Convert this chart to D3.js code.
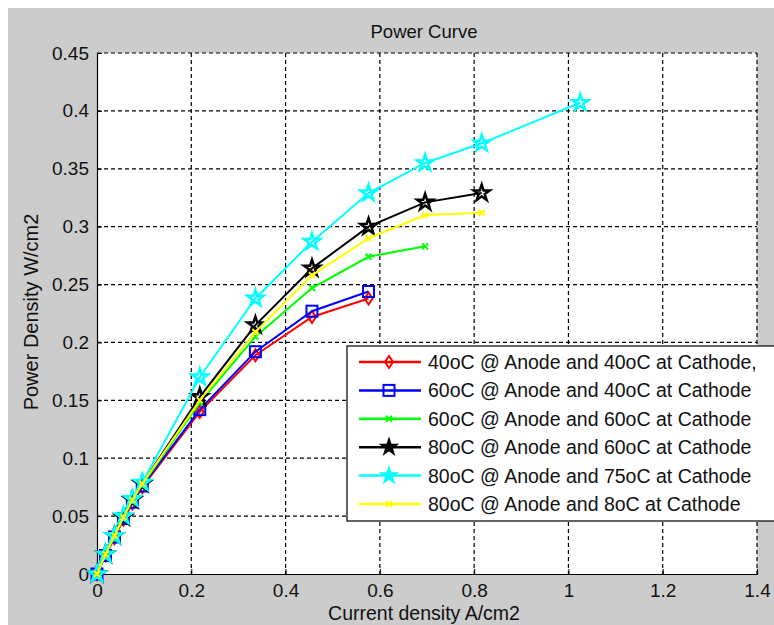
<!DOCTYPE html>
<html lang="en">
<head>
    <meta charset="UTF-8">
    <title>Power Curve</title>
    <script src="https://cdn.jsdelivr.net/npm/d3@7"></script>
    <style>
        body { margin: 0; background: #fff; }
        text { font-family: "Liberation Sans", Arial, sans-serif; fill: #111; }
    </style>
</head>
<body>
<script>

    // current density values (A/cm2)
    var current = [0, 0.018, 0.037, 0.056, 0.075, 0.096, 0.218, 0.336, 0.456, 0.576, 0.696, 0.816, 1.025];

    // power density per run (W/cm2)
    var red40_40    = [0, 0.016, 0.031, 0.047, 0.061, 0.075, 0.140, 0.189, 0.222, 0.238];
    var blue60_40   = [0, 0.016, 0.032, 0.048, 0.062, 0.076, 0.142, 0.192, 0.227, 0.244];
    var green60_60  = [0, 0.016, 0.032, 0.048, 0.063, 0.077, 0.148, 0.205, 0.247, 0.274, 0.283];
    var black80_60  = [0, 0.017, 0.033, 0.049, 0.064, 0.078, 0.153, 0.215, 0.264, 0.300, 0.321, 0.329];
    var cyan80_75   = [0, 0.017, 0.033, 0.050, 0.065, 0.079, 0.170, 0.238, 0.287, 0.329, 0.355, 0.372, 0.407];
    var yellow80_8  = [0, 0.017, 0.033, 0.049, 0.064, 0.078, 0.150, 0.209, 0.258, 0.290, 0.310, 0.312];

    var labels = [
        "40oC @ Anode and 40oC at Cathode,",
        "60oC @ Anode and 40oC at Cathode",
        "60oC @ Anode and 60oC at Cathode",
        "80oC @ Anode and 60oC at Cathode",
        "80oC @ Anode and 75oC at Cathode",
        "80oC @ Anode and 8oC at Cathode"
    ];

    var xTicks = [0, 0.2, 0.4, 0.6, 0.8, 1, 1.2, 1.4];
    var yTicks = [0, 0.05, 0.1, 0.15, 0.2, 0.25, 0.3, 0.35, 0.4, 0.45];

    var series = [
        {name: labels[0], values: red40_40,   color: "#ff0000", marker: "diamond"},
        {name: labels[1], values: blue60_40,  color: "#0000ff", marker: "square"},
        {name: labels[2], values: green60_60, color: "#00ff00", marker: "x"},
        {name: labels[3], values: black80_60, color: "#000000", marker: "star"},
        {name: labels[4], values: cyan80_75,  color: "#00ffff", marker: "star"},
        {name: labels[5], values: yellow80_8, color: "#ffff00", marker: "x"}
    ];

    var W = 774, H = 625;
    var pLeft = 97, pRight = 757, pTop = 53, pBottom = 574;

    var svg = d3.select("body").append("svg")
            .attr("width", W)
            .attr("height", H);

    // grey figure background
    svg.append("rect")
            .attr("x", 8).attr("y", 8)
            .attr("width", W - 8).attr("height", H - 8)
            .attr("fill", "#cccccc");

    var x = d3.scaleLinear().domain([0, 1.4]).range([pLeft, pRight]);
    var y = d3.scaleLinear().domain([0, 0.45]).range([pBottom, pTop]);
    var fmt = d3.format("~g");

    svg.append("rect")
            .attr("x", pLeft).attr("y", pTop)
            .attr("width", pRight - pLeft).attr("height", pBottom - pTop)
            .attr("fill", "#fff");

    // grid
    svg.append("g").selectAll("line")
            .data(xTicks.slice(1))
            .enter().append("line")
            .attr("x1", function(d) { return x(d); })
            .attr("x2", function(d) { return x(d); })
            .attr("y1", pTop).attr("y2", pBottom)
            .attr("stroke", "#000").attr("stroke-width", 1.2)
            .attr("stroke-dasharray", "4,3");

    svg.append("g").selectAll("line")
            .data(yTicks.slice(1))
            .enter().append("line")
            .attr("y1", function(d) { return y(d); })
            .attr("y2", function(d) { return y(d); })
            .attr("x1", pLeft).attr("x2", pRight)
            .attr("stroke", "#000").attr("stroke-width", 1.2)
            .attr("stroke-dasharray", "4,3");

    // axes with inward ticks
    var xAxis = svg.append("g")
            .attr("transform", "translate(0," + pBottom + ")")
            .call(d3.axisBottom(x).tickValues(xTicks).tickSize(-5).tickPadding(10).tickFormat(fmt));
    var yAxis = svg.append("g")
            .attr("transform", "translate(" + pLeft + ",0)")
            .call(d3.axisLeft(y).tickValues(yTicks).tickSize(-5).tickPadding(8).tickFormat(fmt));

    [xAxis, yAxis].forEach(function(a) {
        a.select(".domain").attr("stroke", "#000").attr("stroke-width", 1.2);
        a.selectAll(".tick line").attr("stroke", "#000");
        a.selectAll("text")
                .style("font-family", "'Liberation Sans', Arial, sans-serif")
                .style("font-size", "19px")
                .attr("fill", "#111");
    });

    // markers
    var starPath = d3.symbol().type(d3.symbolStar).size(80)();
    function drawMarker(g, type, color) {
        if (type === "diamond") {
            g.append("path")
                    .attr("d", "M0,-6L4,0L0,6L-4,0Z")
                    .attr("fill", "none").attr("stroke", color).attr("stroke-width", 2);
        } else if (type === "square") {
            g.append("rect")
                    .attr("x", -5.5).attr("y", -5.5).attr("width", 11).attr("height", 11)
                    .attr("fill", "none").attr("stroke", color).attr("stroke-width", 2);
        } else if (type === "x") {
            g.append("path")
                    .attr("d", "M-3,-3L3,3M-3,3L3,-3")
                    .attr("stroke", color).attr("stroke-width", 2);
        } else if (type === "star") {
            g.append("path")
                    .attr("d", starPath)
                    .attr("fill", "none").attr("stroke", color).attr("stroke-width", 2.5);
        }
    }

    var line = d3.line()
            .x(function(d, i) { return x(current[i]); })
            .y(function(d) { return y(d); });

    series.forEach(function(s) {
        var g = svg.append("g");
        g.append("path")
                .attr("d", line(s.values))
                .attr("fill", "none")
                .attr("stroke", s.color)
                .attr("stroke-width", 2);
        s.values.forEach(function(v, i) {
            var m = g.append("g").attr("transform", "translate(" + x(current[i]) + "," + y(v) + ")");
            drawMarker(m, s.marker, s.color);
        });
    });

    // legend
    var lx = 347, ly = 346, rowH = 28.4;
    var legend = svg.append("g");
    legend.append("rect")
            .attr("x", lx).attr("y", ly)
            .attr("width", 440).attr("height", 175)
            .attr("fill", "#fff").attr("stroke", "#000").attr("stroke-width", 1.2);

    series.forEach(function(s, i) {
        var cy = ly + 16 + i * rowH;
        var row = legend.append("g");
        row.append("line")
                .attr("x1", lx + 12).attr("x2", lx + 74)
                .attr("y1", cy).attr("y2", cy)
                .attr("stroke", s.color).attr("stroke-width", 2.5);
        var m = row.append("g").attr("transform", "translate(" + (lx + 42) + "," + cy + ")");
        if (s.marker === "star") {
            m.append("path").attr("d", starPath).attr("fill", s.color)
                    .attr("stroke", s.color).attr("stroke-width", 1.5);
        } else {
            drawMarker(m, s.marker, s.color);
        }
        row.append("text")
                .attr("x", lx + 81).attr("y", cy + 7)
                .style("font-size", "19.5px")
                .text(s.name);
    });

    // titles
    svg.append("text")
            .attr("x", 424).attr("y", 38)
            .attr("text-anchor", "middle")
            .style("font-size", "18.5px")
            .text("Power Curve");

    svg.append("text")
            .attr("x", 424).attr("y", 620)
            .attr("text-anchor", "middle")
            .style("font-size", "19.5px")
            .text("Current density A/cm2");

    svg.append("text")
            .attr("transform", "translate(38,312) rotate(-90)")
            .attr("text-anchor", "middle")
            .style("font-size", "20px")
            .text("Power Density W/cm2");

</script>
</body>
</html>
